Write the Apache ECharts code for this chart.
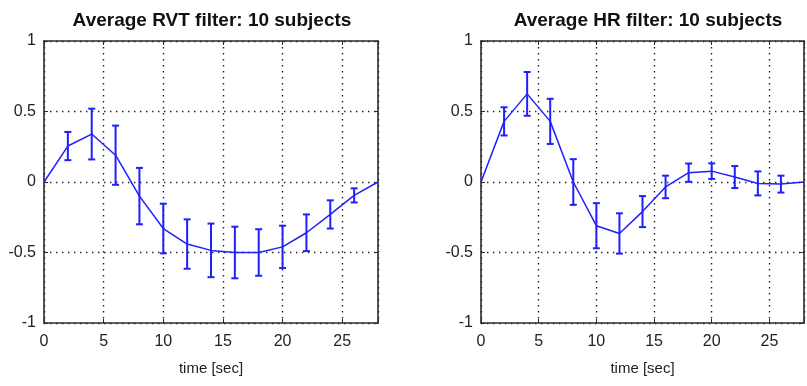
<!DOCTYPE html>
<html>
<head>
<meta charset="utf-8">
<script src="https://cdn.jsdelivr.net/npm/echarts@6/dist/echarts.min.js"></script>
<style>
html,body{margin:0;padding:0;background:#fff;}
#chart{width:807px;height:386px;}
</style>
</head>
<body>
<div id="chart"></div>
<script>
const timeSec = [0, 2, 4, 6, 8, 10, 12, 14, 16, 18, 20, 22, 24, 26, 28];
const rvtMean = [0, 0.255, 0.34, 0.19, -0.1, -0.33, -0.44, -0.485, -0.5, -0.5, -0.46, -0.36, -0.23, -0.095, 0];
const rvtErr  = [null, 0.1, 0.18, 0.21, 0.2, 0.176, 0.175, 0.19, 0.183, 0.165, 0.15, 0.13, 0.1, 0.05, null];
const hrMean  = [0, 0.43, 0.625, 0.43, 0, -0.31, -0.365, -0.21, -0.035, 0.066, 0.077, 0.035, -0.01, -0.015, 0];
const hrErr   = [null, 0.1, 0.155, 0.16, 0.162, 0.16, 0.143, 0.11, 0.08, 0.065, 0.055, 0.078, 0.085, 0.06, null];
const yTicks = [-1, -0.5, 0, 0.5, 1];
const titles = ['Average RVT filter: 10 subjects', 'Average HR filter: 10 subjects'];
const xLabel = 'time [sec]';

const BLUE = '#1f1fff';
const AX = '#2b2b2b';
const FONT = '"Liberation Sans", Arial, sans-serif';

const chart = echarts.init(document.getElementById('chart'), null, {renderer: 'canvas'});

const grids = [
  {left: 44, top: 41, width: 334, height: 282},
  {left: 481, top: 41, width: 334, height: 282}
];

function xAx(gi, pos) {
  const bottom = pos === 'bottom';
  return {
    type: 'value', gridIndex: gi, position: pos, min: 0, max: 28, interval: 5,
    axisLine: {show: true, onZero: false, lineStyle: {color: AX, width: 1.6}},
    axisTick: {show: true, inside: true, length: 4, lineStyle: {color: AX, width: 1}},
    axisLabel: {show: bottom, margin: 11, color: '#222', fontFamily: FONT, fontSize: 16,
      formatter: v => (v % 5 === 0 ? String(v) : '')},
    splitLine: {show: bottom, lineStyle: {color: '#222', width: 1.4, type: [1.4, 4.6]}},
    name: bottom ? xLabel : '', nameLocation: 'middle', nameGap: 38,
    nameTextStyle: {color: '#222', fontFamily: FONT, fontSize: 15}
  };
}
function yAx(gi, pos) {
  const left = pos === 'left';
  return {
    type: 'value', gridIndex: gi, position: pos, min: -1, max: 1, interval: 0.5,
    axisLine: {show: true, onZero: false, lineStyle: {color: AX, width: 1.6}},
    axisTick: {show: true, inside: true, length: 4, lineStyle: {color: AX, width: 1}},
    axisLabel: {show: left, margin: 8, color: '#222', fontFamily: FONT, fontSize: 16,
      formatter: v => (yTicks.indexOf(v) >= 0 ? String(v) : '')},
    splitLine: {show: left, lineStyle: {color: '#222', width: 1.4, type: [1.4, 4.6]}}
  };
}

function errSeries(xi, yi, means, errs) {
  const data = [];
  timeSec.forEach((t, i) => { if (errs[i] != null) data.push([t, means[i], errs[i]]); });
  return {
    type: 'custom', xAxisIndex: xi, yAxisIndex: yi, data: data, silent: true, z: 3,
    renderItem: function (params, api) {
      const x = api.value(0), m = api.value(1), e = api.value(2);
      const top = api.coord([x, m + e]);
      const bot = api.coord([x, m - e]);
      const hw = 3.5;
      const style = {stroke: BLUE, lineWidth: 2, fill: null};
      return {type: 'group', children: [
        {type: 'line', shape: {x1: top[0], y1: top[1], x2: bot[0], y2: bot[1]}, style: style},
        {type: 'line', shape: {x1: top[0] - hw, y1: top[1], x2: top[0] + hw, y2: top[1]}, style: style},
        {type: 'line', shape: {x1: bot[0] - hw, y1: bot[1], x2: bot[0] + hw, y2: bot[1]}, style: style}
      ]};
    }
  };
}
function lineSeries(xi, yi, means) {
  return {
    type: 'line', xAxisIndex: xi, yAxisIndex: yi, silent: true, z: 4,
    data: timeSec.map((t, i) => [t, means[i]]),
    showSymbol: false, symbol: 'none',
    lineStyle: {color: BLUE, width: 1.5}
  };
}

const option = {
  animation: false,
  backgroundColor: '#ffffff',
  title: [
    {text: titles[0], left: 207, top: 6, textAlign: 'center',
      textStyle: {fontFamily: FONT, fontSize: 19, fontWeight: 'bold', color: '#111'}},
    {text: titles[1], left: 643, top: 6, textAlign: 'center',
      textStyle: {fontFamily: FONT, fontSize: 19, fontWeight: 'bold', color: '#111'}}
  ],
  grid: grids,
  xAxis: [xAx(0, 'bottom'), xAx(0, 'top'), xAx(1, 'bottom'), xAx(1, 'top')],
  yAxis: [yAx(0, 'left'), yAx(0, 'right'), yAx(1, 'left'), yAx(1, 'right')],
  series: [
    lineSeries(0, 0, rvtMean),
    errSeries(0, 0, rvtMean, rvtErr),
    lineSeries(2, 2, hrMean),
    errSeries(2, 2, hrMean, hrErr)
  ]
};
chart.setOption(option);
</script>
</body>
</html>
